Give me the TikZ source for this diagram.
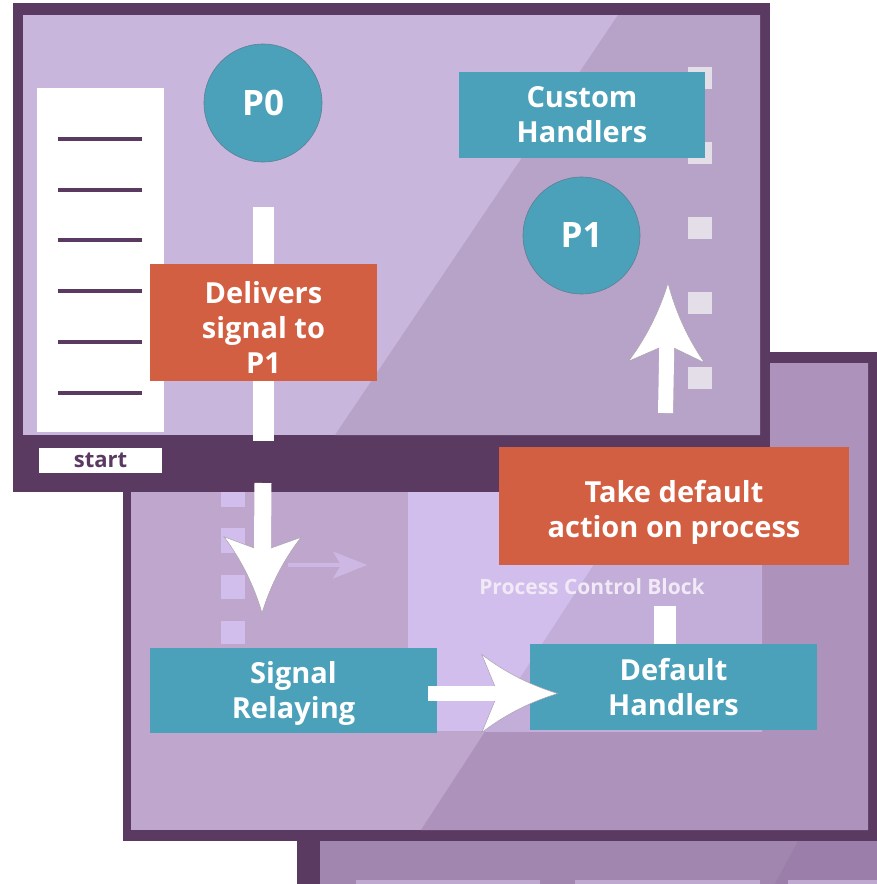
\documentclass[tikz,border=0pt]{standalone}
\usepackage{fontspec}
\setmainfont{Open Sans}
\usetikzlibrary{arrows.meta,calc}
\definecolor{frame}{HTML}{5B3A61}
\definecolor{wonelight}{HTML}{C9B6DC}
\definecolor{wonedark}{HTML}{B8A3C8}
\definecolor{wtwolight}{HTML}{BEA6CC}
\definecolor{wtwodark}{HTML}{AD92BB}
\definecolor{blocklight}{HTML}{D2BEEC}
\definecolor{blockdark}{HTML}{C3ADD9}
\definecolor{wthree}{HTML}{A186B0}
\definecolor{wthreedark}{HTML}{9B7EAA}
\definecolor{wthreestrip}{HTML}{BFA8CF}
\definecolor{tealc}{HTML}{4AA1B9}
\definecolor{tealedge}{HTML}{5E7F94}
\definecolor{orangec}{HTML}{D35F42}
\definecolor{sqone}{HTML}{E4DEE8}
\definecolor{sqtwo}{HTML}{D2BEEC}
\definecolor{fadearrow}{HTML}{CDB8E4}
\definecolor{pcbtextc}{HTML}{F1E9F6}
\definecolor{headedge}{HTML}{A9A1AE}
\tikzset{
  boxtext/.style={text=white, font=\bfseries\fontsize{29}{35}\selectfont, align=center, inner sep=0pt},
  tealbox/.style={fill=tealc, inner sep=0pt},
  orangebox/.style={fill=orangec, inner sep=0pt},
  pcircle/.style={circle, fill=tealc, draw=tealedge, line width=0.6pt, text=white,
    font=\bfseries\fontsize{35}{40}\selectfont, minimum size=118pt, inner sep=0pt},
  whitebar/.style={draw=white, line width=#1},
  shaftline/.style={draw=white, line width=#1},
  menuline/.style={draw=frame, line width=4pt},
  headoutline/.style={draw=headedge, line width=0.5pt, line join=miter},
}
% #1 tip, #2 angle, #3 length, #4 half width, #5 inset, #6 half shaft
\newcommand\fathead[6]{%
  \begin{scope}[shift={(#1)}, rotate=#2]
    \fill[white] (0,0) .. controls (-0.34*#3, 0.2*#4) and (-0.68*#3, 0.52*#4) .. (-#3, #4)
      -- (-#3+#5, #6) -- (-#3+#5, -#6) -- (-#3, -#4)
      .. controls (-0.68*#3, -0.52*#4) and (-0.34*#3, -0.2*#4) .. (0,0) -- cycle;
    \draw[headoutline] (-#3+#5, #6) -- (-#3, #4)
      .. controls (-0.68*#3, 0.52*#4) and (-0.34*#3, 0.2*#4) .. (0,0)
      .. controls (-0.34*#3, -0.2*#4) and (-0.68*#3, -0.52*#4) .. (-#3, -#4) -- (-#3+#5, -#6);
  \end{scope}}
\begin{document}
\begin{tikzpicture}[x=1pt,y=-1pt]
\useasboundingbox (0,0) rectangle (877,884);
\fill[white] (0,0) rectangle (877,884);

% ---------- window 3 (bottom) ----------
\fill[frame] (297,830) rectangle (877,884);
\fill[wthree] (320,841) rectangle (877,884);
\fill[wthreedark] (798,841) -- (877,841) -- (877,884) -- (775,884) -- cycle;
\fill[wthreestrip] (356,880) rectangle (540,884);
\fill[wthreestrip] (575,880) rectangle (760,884);
\fill[wthreestrip] (788,880) rectangle (877,884);

% ---------- window 2 (middle) ----------
\fill[frame] (123,352) rectangle (877,841);
\fill[wtwolight] (131,363) rectangle (868,830);
\fill[wtwodark] (421,830) -- (725,363) -- (868,363) -- (868,830) -- cycle;
\fill[blocklight] (408,480) rectangle (762,731);
\begin{scope}
  \clip (408,480) rectangle (762,731);
  \fill[blockdark] (421,830) -- (725,363) -- (868,363) -- (868,830) -- cycle;
\end{scope}
\fill[sqtwo] (221,483) rectangle (245,507);
\fill[sqtwo] (221,528) rectangle (245,553);
\fill[sqtwo] (221,575) rectangle (245,599);
\fill[sqtwo] (221,621) rectangle (245,644);
\coordinate (fa1) at (288,565);
\coordinate (fa2) at (367,565);
\draw[draw=fadearrow, line width=3.5pt,
  -{Stealth[length=34pt, width=27pt, inset=8pt, line width=0.1pt]}] (fa1) -- (fa2);

% ---------- window 1 (top) ----------
\fill[frame] (13,3) rectangle (770,492);
\fill[wonelight] (23,15) rectangle (760,435);
\fill[wonedark] (335,435) -- (618,15) -- (760,15) -- (760,435) -- cycle;
\fill[white] (37,88) rectangle (164,432);
\foreach \yy in {139,190,240,291,342,393} \draw[menuline] (58,\yy) -- (142,\yy);
\node[fill=white, minimum width=123pt, minimum height=25pt, inner sep=0pt,
  text=frame, font=\bfseries\fontsize{22}{24}\selectfont] (start) at (100.5,460.5) {start};
\foreach \yy in {67,142,217,292,367} \fill[sqone] (688,\yy) rectangle (712,\yy+22);

\node[pcircle] (P0) at (263,103) {P0};
\node[pcircle, minimum size=117pt] (P1) at (581.5,235.5) {P1};

% bar from P0 downwards
\draw[whitebar=21pt] ([yshift=-45pt]P0.south) -- ++(0,234);

\node[orangebox, minimum width=227pt, minimum height=117pt] (deliv) at (263.5,322.5) {};
\node[boxtext] (delivtext) at ([yshift=-5pt]deliv.center) {Delivers\\signal to\\P1};
\node[tealbox, minimum width=246pt, minimum height=86pt] (custom) at (582,115) {};
\node[boxtext] (customtext) at (custom.center) {Custom\\Handlers};

% up arrow to P1
\coordinate (ua1) at (665.5,413);
\coordinate (ua2) at (668,283);
\draw[shaftline=15pt] (ua1) -- ($(ua2)!62pt!(ua1)$);
\fathead{ua2}{88.9}{79}{38}{14}{7.5}

% ---------- overlays ----------
\node[orangebox, minimum width=350pt, minimum height=118pt] (take) at (674,506) {};
\node[boxtext] (taketext) at ([yshift=-6pt]take.center) {Take default\\action on process};

\node[text=pcbtextc, font=\bfseries\fontsize{21}{24}\selectfont, inner sep=0pt] (pcb) at (592,587) {Process Control Block};

\node[tealbox, minimum width=287pt, minimum height=85pt] (sr) at (293.5,690.5) {};
\node[boxtext] (srtext) at ([yshift=-3pt]sr.center) {Signal\\Relaying};
\node[tealbox, minimum width=287pt, minimum height=86pt] (defh) at (673.5,687) {};
\node[boxtext] (defhtext) at (defh.center) {Default\\Handlers};

% down arrow to signal relaying
\coordinate (da1) at (263,483);
\coordinate (da2) at (262,613);
\draw[shaftline=17pt] (da1) -- ($(da2)!62pt!(da1)$);
\fathead{da2}{-90.4}{76}{38.5}{11}{8.5}

% right arrow from signal relaying to default handlers
\coordinate (ra1) at ([xshift=-9pt,yshift=-3pt]sr.east);
\coordinate (ra2) at ([xshift=28pt,yshift=-6.5pt]defh.west);
\draw[shaftline=15pt] (ra1) -- ($(ra2)!60pt!(ra1)$);
\fathead{ra2}{0}{76}{39}{13}{7.5}

% bar from default handlers up
\draw[whitebar=22pt] ([xshift=-8.5pt]defh.north) -- ++(0,-38);
\end{tikzpicture}
\end{document}
